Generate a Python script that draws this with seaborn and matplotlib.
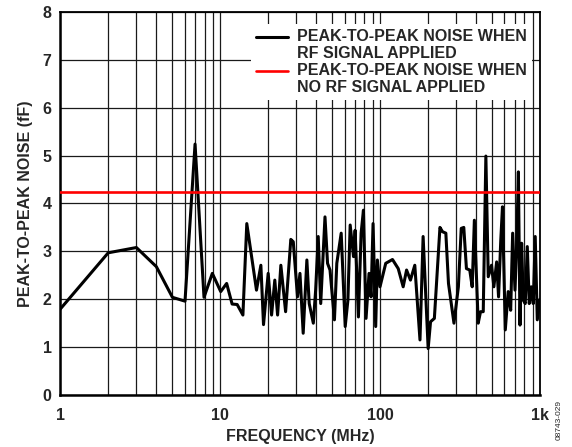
import numpy as np
import pandas as pd
import matplotlib
matplotlib.use("Agg")
import matplotlib.pyplot as plt
import seaborn as sns

# Values
freq_mhz = [1, 2, 3, 4, 5.04, 6.04, 6.98, 7.94, 8.95, 10.1, 11.0, 11.9, 12.8, 13.9,
            14.7, 16.9, 18.0, 18.7, 20, 21, 22, 22.9, 24, 25.7, 27.7, 28.7, 30.5, 31.6,
            33.1, 34.9, 36.1, 38.3, 39.6, 41.1, 42.6, 45.3, 47.0, 48.7, 51.9, 53.7, 57.2,
            60.6, 63.0, 65.1, 68.3, 69.9, 73.3, 76.2, 78.8, 81.8, 85.4, 87.9, 90.5, 94.0,
            96.3, 100, 108.6, 119.7, 130, 139.6, 146.6, 155, 165, 177.8, 186, 200,
            207, 218.7, 237, 246, 258, 268, 290, 309, 322, 334, 347, 364, 377, 389,
            411, 425, 442, 459, 475, 498, 515, 536, 551, 569, 583, 607, 633, 656,
            675, 698, 716, 733, 750, 768, 786, 809, 833, 857, 882, 908, 934, 962, 1000]
noise_rf = [1.79, 2.97, 3.08, 2.68, 2.04, 1.96, 5.24, 2.04, 2.54, 2.16, 2.33, 1.90, 1.89, 1.67,
            3.58, 2.19, 2.71, 1.47, 2.54, 1.67, 2.40, 1.67, 2.71, 1.74, 3.25, 3.20, 2.05, 2.54,
            1.29, 2.82, 1.91, 1.50, 2.19, 3.31, 1.91, 3.72, 2.75, 2.61, 1.57, 2.75, 3.38,
            1.43, 1.98, 3.55, 2.89, 3.44, 1.63, 3.38, 3.86, 1.60, 2.54, 2.05, 3.58, 1.43,
            2.82, 2.26, 2.75, 2.83, 2.64, 2.26, 2.61, 2.40, 2.71, 1.15, 3.31, 0.97,
            1.53, 1.60, 3.50, 3.41, 3.38, 2.33, 1.50, 2.26, 3.48, 3.50, 2.64, 2.61, 2.26, 3.65,
            1.50, 1.74, 1.74, 4.99, 2.47, 2.71, 2.26, 2.78, 2.05, 3.24, 3.93, 1.36, 2.16, 1.77,
            3.38, 2.19, 3.17, 4.66, 1.46, 3.17, 1.98, 1.91, 3.10, 1.91, 2.26, 1.91, 3.31, 1.57, 2.00]
noise_no_rf = 4.24

x_ticks = [1, 10, 100, 1000]
x_tick_labels = ["1", "10", "100", "1k"]
y_ticks = [0, 1, 2, 3, 4, 5, 6, 7, 8]

df = pd.DataFrame({"freq": freq_mhz, "noise": noise_rf})

sns.set_style("white")
plt.rcParams["font.family"] = ["Liberation Sans", "DejaVu Sans"]
plt.rcParams["font.weight"] = "bold"
fs = 11.5

fig = plt.figure(figsize=(5.72, 4.47), dpi=100)
ax = fig.add_axes([0.105, 0.1163, 0.839, 0.857])

ax.set_xscale("log")
ax.set_xlim(1, 1000)
ax.set_ylim(0, 8)

# grid first so it sits under the data
ax.grid(True, which="both", color="#1a1a1a", linewidth=0.9)
ax.set_axisbelow(True)

sns.lineplot(data=df, x="freq", y="noise", color="black", linewidth=2.2, ax=ax,
             label="PEAK-TO-PEAK NOISE WHEN\nRF SIGNAL APPLIED", zorder=3)
ax.axhline(noise_no_rf, color="#ff0000", linewidth=1.9, zorder=3,
           label="PEAK-TO-PEAK NOISE WHEN\nNO RF SIGNAL APPLIED")

ax.set_xticks(x_ticks)
ax.set_xticklabels(x_tick_labels)
ax.set_yticks(y_ticks)
ax.tick_params(axis="both", which="both", length=0, labelsize=fs)
ax.tick_params(axis="x", pad=9)
ax.tick_params(axis="y", pad=6)
for lab in ax.get_xticklabels() + ax.get_yticklabels():
    lab.set_fontweight("bold")

ax.set_xlabel("FREQUENCY (MHz)", fontsize=fs, fontweight="bold", labelpad=5)
ax.set_ylabel("PEAK-TO-PEAK NOISE (fF)", fontsize=fs, fontweight="bold", labelpad=7)

for side in ["left", "bottom"]:
    ax.spines[side].set_linewidth(1.8)
for side in ["top", "right"]:
    ax.spines[side].set_linewidth(1.3)
for s in ax.spines.values():
    s.set_color("black")

leg = ax.legend(loc="upper right", bbox_to_anchor=(1.0, 0.99), frameon=True,
                fancybox=False, framealpha=1, facecolor="white", edgecolor="white",
                prop={"size": fs, "weight": "bold"}, handlelength=2.0,
                handletextpad=0.6, labelspacing=0.12, borderpad=0.3)
leg.set_zorder(5)
leg.get_frame().set_linewidth(0)
# handles sit level with the first text line, as in the original
for hl in leg.get_lines():
    hl.set_ydata(np.asarray(hl.get_ydata()) + 6)

fig.text(0.978, 0.06, "08743-029", rotation=90, fontsize=6, ha="center", va="center",
         fontweight="normal")

fig.savefig("out.png", dpi=100)
